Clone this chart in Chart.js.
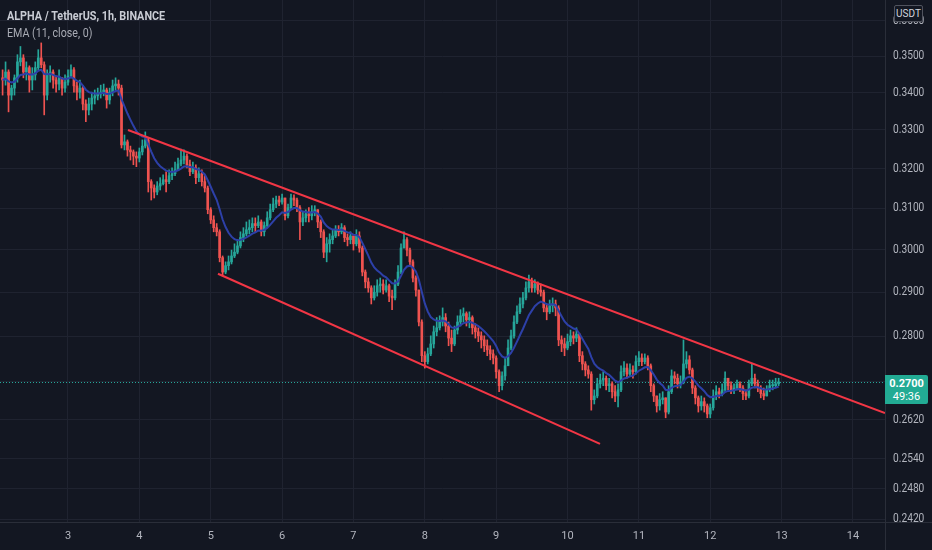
<!DOCTYPE html>
<html>
<head>
<meta charset="utf-8">
<script src="https://cdn.jsdelivr.net/npm/chart.js@4.4.1/dist/chart.umd.min.js"></script>
<style>
  html, body { margin: 0; padding: 0; background: #131722; }
  #wrap { position: relative; width: 932px; height: 550px; overflow: hidden; font-family: Roboto, sans-serif; }
  #chart { position: absolute; left: 0; top: 0; }
  .hdr { position: absolute; left: 7px; white-space: nowrap; transform-origin: 0 0; }
  #title { top: 9px; font-size: 12px; font-weight: 700; color: #c9ccd4; transform: scaleX(0.9); }
  #ema { top: 26px; font-size: 12px; color: #a9acb5; transform: scaleX(0.89); }
  #usdt { position: absolute; left: 894px; top: 5px; width: 27px; height: 15px; border: 1px solid #50535e; border-radius: 2px;
          font-size: 10px; line-height: 15px; text-align: center; color: #d1d4dc; background: #131722; }
  #price { position: absolute; left: 885px; top: 375px; width: 43px; height: 29px; background: #22ab94; border-radius: 0 2px 2px 0;
           color: #fff; font-size: 11px; text-align: center; line-height: 13px; padding-top: 2px; box-sizing: border-box; }
  #price b { display: block; font-weight: 700; }
</style>
</head>
<body>
<div id="wrap">
  <canvas id="chart" width="932" height="550"></canvas>
  <div class="hdr" id="title">ALPHA / TetherUS, 1h, BINANCE</div>
  <div class="hdr" id="ema">EMA (11, close, 0)</div>
  <div id="usdt">USDT</div>
  <div id="price"><b id="priceValue"></b><span id="countdown"></span></div>
</div>
<script>
document.addEventListener("DOMContentLoaded", () => {
  // hourly candles, first one at day 2, 02:00
  const startDay = 2;
  const startHour = 2;
  const firstOpen = 0.3440;

  const closes = [
    0.3434, 0.3456, 0.3393, 0.3412, 0.3440, 0.3484, 0.3495, 0.3456, 0.3468, 0.3434,
    0.3448, 0.3468, 0.3495, 0.3476, 0.3393, 0.3448, 0.3456, 0.3434, 0.3423, 0.3440,
    0.3412, 0.3428, 0.3445, 0.3462, 0.3418, 0.3401, 0.3412, 0.3369, 0.3353, 0.3369,
    0.3385, 0.3391, 0.3396, 0.3401, 0.3407, 0.3380, 0.3401, 0.3418, 0.3423, 0.3412,
    0.3261, 0.3269, 0.3248, 0.3243, 0.3232, 0.3227, 0.3243, 0.3258, 0.3274, 0.3167,
    0.3151, 0.3141, 0.3156, 0.3162, 0.3172, 0.3167, 0.3182, 0.3187, 0.3197, 0.3212,
    0.3222, 0.3232, 0.3210, 0.3192, 0.3202, 0.3177, 0.3187, 0.3167, 0.3151, 0.3097,
    0.3072, 0.3053, 0.3043, 0.2981, 0.2947, 0.2962, 0.2971, 0.2985, 0.2994, 0.3009,
    0.3029, 0.3038, 0.3048, 0.3053, 0.3063, 0.3058, 0.3067, 0.3043, 0.3058, 0.3077,
    0.3097, 0.3111, 0.3121, 0.3116, 0.3126, 0.3082, 0.3102, 0.3126, 0.3121, 0.3102,
    0.3067, 0.3077, 0.3087, 0.3082, 0.3092, 0.3097, 0.3067, 0.3043, 0.2994, 0.3014,
    0.3024, 0.3033, 0.3048, 0.3043, 0.3053, 0.3029, 0.3024, 0.3033, 0.3014, 0.3033,
    0.3004, 0.2947, 0.2924, 0.2910, 0.2887, 0.2900, 0.2915, 0.2919, 0.2905, 0.2915,
    0.2891, 0.2887, 0.2919, 0.2947, 0.3004, 0.3024, 0.2999, 0.2971, 0.2933, 0.2905,
    0.2832, 0.2757, 0.2744, 0.2761, 0.2783, 0.2810, 0.2819, 0.2832, 0.2842, 0.2823,
    0.2796, 0.2783, 0.2814, 0.2832, 0.2846, 0.2851, 0.2837, 0.2842, 0.2819, 0.2810,
    0.2801, 0.2792, 0.2779, 0.2770, 0.2761, 0.2752, 0.2722, 0.2692, 0.2713, 0.2735,
    0.2774, 0.2801, 0.2832, 0.2855, 0.2873, 0.2887, 0.2910, 0.2924, 0.2910, 0.2919,
    0.2905, 0.2900, 0.2864, 0.2855, 0.2869, 0.2873, 0.2864, 0.2792, 0.2783, 0.2774,
    0.2788, 0.2801, 0.2796, 0.2805, 0.2757, 0.2739, 0.2726, 0.2717, 0.2662, 0.2670,
    0.2696, 0.2704, 0.2708, 0.2692, 0.2696, 0.2679, 0.2670, 0.2683, 0.2722, 0.2730,
    0.2717, 0.2726, 0.2722, 0.2744, 0.2752, 0.2744, 0.2752, 0.2735, 0.2692, 0.2670,
    0.2649, 0.2662, 0.2666, 0.2636, 0.2679, 0.2713, 0.2708, 0.2696, 0.2700, 0.2739,
    0.2748, 0.2726, 0.2687, 0.2666, 0.2649, 0.2658, 0.2649, 0.2632, 0.2645, 0.2670,
    0.2679, 0.2675, 0.2683, 0.2708, 0.2692, 0.2683, 0.2687, 0.2696, 0.2687, 0.2675,
    0.2670, 0.2696, 0.2708, 0.2696, 0.2687, 0.2675, 0.2670, 0.2683, 0.2692, 0.2692, 0.2696, 0.2700
  ];
  const highs = [
    0.3462, 0.3484, 0.3462, 0.3420, 0.3448, 0.3504, 0.3527, 0.3504, 0.3484, 0.3473,
    0.3468, 0.3484, 0.3518, 0.3537, 0.3484, 0.3462, 0.3473, 0.3462, 0.3445, 0.3462,
    0.3440, 0.3448, 0.3462, 0.3476, 0.3468, 0.3428, 0.3434, 0.3418, 0.3380, 0.3385,
    0.3401, 0.3407, 0.3412, 0.3420, 0.3423, 0.3412, 0.3412, 0.3434, 0.3440, 0.3434,
    0.3420, 0.3287, 0.3274, 0.3258, 0.3248, 0.3243, 0.3253, 0.3274, 0.3295, 0.3279,
    0.3172, 0.3159, 0.3167, 0.3177, 0.3184, 0.3192, 0.3197, 0.3202, 0.3217, 0.3227,
    0.3250, 0.3248, 0.3238, 0.3222, 0.3217, 0.3210, 0.3202, 0.3197, 0.3182, 0.3156,
    0.3102, 0.3082, 0.3063, 0.3048, 0.2985, 0.2971, 0.2985, 0.2999, 0.3014, 0.3024,
    0.3043, 0.3053, 0.3067, 0.3072, 0.3077, 0.3077, 0.3082, 0.3072, 0.3067, 0.3092,
    0.3111, 0.3126, 0.3131, 0.3131, 0.3136, 0.3126, 0.3111, 0.3136, 0.3134, 0.3126,
    0.3107, 0.3092, 0.3097, 0.3102, 0.3107, 0.3107, 0.3097, 0.3072, 0.3048, 0.3029,
    0.3038, 0.3048, 0.3058, 0.3058, 0.3063, 0.3058, 0.3038, 0.3043, 0.3033, 0.3048,
    0.3043, 0.3009, 0.2952, 0.2933, 0.2915, 0.2915, 0.2929, 0.2933, 0.2929, 0.2929,
    0.2919, 0.2905, 0.2929, 0.2962, 0.3014, 0.3043, 0.3029, 0.3004, 0.2976, 0.2938,
    0.2905, 0.2837, 0.2766, 0.2774, 0.2801, 0.2823, 0.2842, 0.2846, 0.2864, 0.2851,
    0.2832, 0.2814, 0.2823, 0.2846, 0.2860, 0.2864, 0.2855, 0.2855, 0.2846, 0.2828,
    0.2819, 0.2810, 0.2801, 0.2792, 0.2779, 0.2770, 0.2757, 0.2726, 0.2722, 0.2752,
    0.2792, 0.2814, 0.2846, 0.2869, 0.2887, 0.2900, 0.2924, 0.2940, 0.2933, 0.2929,
    0.2924, 0.2919, 0.2905, 0.2873, 0.2882, 0.2887, 0.2882, 0.2869, 0.2801, 0.2796,
    0.2805, 0.2814, 0.2810, 0.2819, 0.2805, 0.2766, 0.2744, 0.2735, 0.2722, 0.2683,
    0.2708, 0.2717, 0.2722, 0.2713, 0.2708, 0.2700, 0.2692, 0.2696, 0.2735, 0.2744,
    0.2739, 0.2739, 0.2735, 0.2757, 0.2766, 0.2761, 0.2761, 0.2757, 0.2739, 0.2696,
    0.2670, 0.2675, 0.2679, 0.2666, 0.2692, 0.2726, 0.2722, 0.2717, 0.2713, 0.2792,
    0.2766, 0.2757, 0.2730, 0.2692, 0.2670, 0.2670, 0.2666, 0.2653, 0.2653, 0.2683,
    0.2692, 0.2687, 0.2696, 0.2722, 0.2708, 0.2700, 0.2696, 0.2704, 0.2700, 0.2692,
    0.2683, 0.2704, 0.2739, 0.2717, 0.2704, 0.2692, 0.2687, 0.2692, 0.2704, 0.2704, 0.2708, 0.2708
  ];
  const lows = [
    0.3393, 0.3420, 0.3348, 0.3380, 0.3393, 0.3428, 0.3473, 0.3440, 0.3434, 0.3401,
    0.3407, 0.3434, 0.3462, 0.3468, 0.3340, 0.3380, 0.3428, 0.3412, 0.3401, 0.3407,
    0.3393, 0.3401, 0.3420, 0.3440, 0.3401, 0.3380, 0.3385, 0.3353, 0.3322, 0.3340,
    0.3353, 0.3369, 0.3380, 0.3385, 0.3391, 0.3358, 0.3369, 0.3391, 0.3407, 0.3393,
    0.3253, 0.3248, 0.3232, 0.3222, 0.3210, 0.3205, 0.3217, 0.3235, 0.3253, 0.3141,
    0.3121, 0.3126, 0.3134, 0.3146, 0.3159, 0.3141, 0.3162, 0.3172, 0.3182, 0.3197,
    0.3207, 0.3212, 0.3202, 0.3182, 0.3187, 0.3162, 0.3167, 0.3156, 0.3141, 0.3087,
    0.3063, 0.3043, 0.3033, 0.2971, 0.2938, 0.2943, 0.2952, 0.2966, 0.2981, 0.2990,
    0.3004, 0.3019, 0.3033, 0.3038, 0.3043, 0.3043, 0.3053, 0.3033, 0.3033, 0.3053,
    0.3072, 0.3092, 0.3102, 0.3107, 0.3111, 0.3072, 0.3077, 0.3097, 0.3107, 0.3092,
    0.3024, 0.3058, 0.3067, 0.3067, 0.3072, 0.3082, 0.3053, 0.3029, 0.2981, 0.2971,
    0.2994, 0.3014, 0.3029, 0.3033, 0.3038, 0.3019, 0.3009, 0.3014, 0.2999, 0.3009,
    0.2994, 0.2938, 0.2910, 0.2900, 0.2873, 0.2882, 0.2891, 0.2900, 0.2896, 0.2900,
    0.2878, 0.2860, 0.2882, 0.2915, 0.2943, 0.3004, 0.2985, 0.2962, 0.2924, 0.2891,
    0.2823, 0.2744, 0.2730, 0.2739, 0.2757, 0.2774, 0.2801, 0.2814, 0.2823, 0.2810,
    0.2779, 0.2766, 0.2779, 0.2805, 0.2823, 0.2832, 0.2823, 0.2819, 0.2805, 0.2796,
    0.2788, 0.2774, 0.2766, 0.2757, 0.2748, 0.2739, 0.2708, 0.2679, 0.2683, 0.2704,
    0.2735, 0.2770, 0.2796, 0.2828, 0.2851, 0.2864, 0.2882, 0.2900, 0.2900, 0.2900,
    0.2896, 0.2891, 0.2855, 0.2837, 0.2851, 0.2855, 0.2846, 0.2779, 0.2766, 0.2757,
    0.2770, 0.2779, 0.2783, 0.2788, 0.2744, 0.2726, 0.2713, 0.2708, 0.2640, 0.2653,
    0.2666, 0.2687, 0.2692, 0.2683, 0.2679, 0.2666, 0.2658, 0.2647, 0.2679, 0.2713,
    0.2708, 0.2713, 0.2708, 0.2717, 0.2735, 0.2735, 0.2739, 0.2726, 0.2679, 0.2658,
    0.2636, 0.2640, 0.2653, 0.2624, 0.2632, 0.2675, 0.2696, 0.2687, 0.2687, 0.2696,
    0.2730, 0.2717, 0.2675, 0.2653, 0.2636, 0.2640, 0.2636, 0.2624, 0.2624, 0.2640,
    0.2662, 0.2666, 0.2670, 0.2679, 0.2683, 0.2675, 0.2675, 0.2683, 0.2679, 0.2662,
    0.2662, 0.2666, 0.2692, 0.2687, 0.2679, 0.2666, 0.2662, 0.2670, 0.2679, 0.2683, 0.2687, 0.2692
  ];

  const dayTicks = [3, 4, 5, 6, 7, 8, 9, 10, 11, 12, 13, 14];
  const priceTicks = [0.242, 0.248, 0.254, 0.262, 0.27, 0.28, 0.29, 0.30, 0.31, 0.32, 0.33, 0.34, 0.35, 0.36];
  const lastPrice = 0.2700;
  const countdown = "49:36";
  const emaLength = 11;

  // hand drawn channel: [day, price]
  const upperLine = [[3.8408, 0.3300], [14.449, 0.2634]];
  const lowerLine = [[5.1020, 0.2943], [10.4552, 0.2570]];

  const upColor = "#26a69a";
  const downColor = "#ef5350";
  const gridColor = "#1f2330";
  const textColor = "#b2b5be";

  document.getElementById("priceValue").textContent = lastPrice.toFixed(4);
  document.getElementById("countdown").textContent = countdown;

  const xs = closes.map((c, i) => startDay + (startHour + i) / 24);
  const opens = closes.map((c, i) => (i === 0 ? firstOpen : closes[i - 1]));
  const colors = closes.map((c, i) => (c >= opens[i] ? upColor : downColor));

  // EMA of the closes
  const k = 2 / (emaLength + 1);
  const ema = [];
  closes.forEach((c, i) => ema.push(i === 0 ? c : c * k + ema[i - 1] * (1 - k)));

  const framePlugin = {
    id: "frame",
    beforeDatasetsDraw(chart) {
      const { ctx, chartArea } = chart;
      const y = chart.scales.y.getPixelForValue(lastPrice);
      ctx.save();
      ctx.strokeStyle = upColor;
      ctx.lineWidth = 1;
      ctx.setLineDash([1, 2]);
      ctx.beginPath();
      ctx.moveTo(chartArea.left, Math.round(y) + 0.5);
      ctx.lineTo(chartArea.right, Math.round(y) + 0.5);
      ctx.stroke();
      ctx.restore();
    },
    afterDraw(chart) {
      const { ctx, chartArea } = chart;
      ctx.save();
      ctx.strokeStyle = "#2a2e39";
      ctx.lineWidth = 1;
      ctx.beginPath();
      ctx.moveTo(Math.round(chartArea.right) + 0.5, 0);
      ctx.lineTo(Math.round(chartArea.right) + 0.5, chart.height);
      ctx.moveTo(0, Math.round(chartArea.bottom) + 0.5);
      ctx.lineTo(chart.width, Math.round(chartArea.bottom) + 0.5);
      ctx.stroke();

      // price labels, slightly condensed like the original
      const yScale = chart.scales.y;
      ctx.fillStyle = textColor;
      ctx.font = "12px Roboto, sans-serif";
      ctx.textAlign = "left";
      ctx.textBaseline = "middle";
      priceTicks.forEach((v) => {
        const py = yScale.getPixelForValue(v);
        ctx.save();
        ctx.translate(chartArea.right + 8, py);
        ctx.scale(0.85, 1);
        ctx.fillText(v.toFixed(4), 0, 0);
        ctx.restore();
      });
      ctx.restore();
    }
  };

  const bgPlugin = {
    id: "bg",
    beforeDraw(chart) {
      const ctx = chart.ctx;
      ctx.save();
      ctx.fillStyle = "#131722";
      ctx.fillRect(0, 0, chart.width, chart.height);
      ctx.restore();
    }
  };

  new Chart(document.getElementById("chart").getContext("2d"), {
    type: "bar",
    data: {
      datasets: [
        {
          type: "line",
          label: "upper",
          data: upperLine.map((p) => ({ x: p[0], y: p[1] })),
          borderColor: "#f23645",
          borderWidth: 2,
          pointRadius: 0,
          order: -1
        },
        {
          type: "line",
          label: "lower",
          data: lowerLine.map((p) => ({ x: p[0], y: p[1] })),
          borderColor: "#f23645",
          borderWidth: 2,
          pointRadius: 0,
          order: -1
        },
        {
          type: "line",
          label: "EMA",
          data: ema.map((v, i) => ({ x: xs[i], y: v })),
          borderColor: "#2d40a8",
          borderWidth: 2,
          pointRadius: 0,
          tension: 0,
          order: 0
        },
        {
          label: "bodies",
          data: closes.map((c, i) => ({ x: xs[i], y: [opens[i], c] })),
          backgroundColor: colors,
          borderWidth: 0,
          barThickness: 2,
          minBarLength: 1,
          grouped: false,
          order: 1
        },
        {
          label: "wicks",
          data: closes.map((c, i) => ({
            x: xs[i],
            y: [Math.min(lows[i], opens[i], c), Math.max(highs[i], opens[i], c)]
          })),
          backgroundColor: colors,
          borderWidth: 0,
          barThickness: 1,
          grouped: false,
          order: 2
        }
      ]
    },
    options: {
      responsive: false,
      animation: false,
      devicePixelRatio: 1,
      layout: { padding: 0 },
      plugins: { legend: { display: false }, tooltip: { enabled: false } },
      scales: {
        x: {
          type: "linear",
          position: "bottom",
          min: 2.0471,
          max: 14.449,
          offset: false,
          afterBuildTicks: (s) => { s.ticks = dayTicks.map((v) => ({ value: v })); },
          afterFit: (s) => { s.height = 28; s.paddingLeft = 0; s.paddingRight = 0; },
          grid: { color: gridColor, drawTicks: false, offset: false },
          border: { display: false },
          ticks: {
            color: textColor,
            font: { family: "Roboto", size: 11 },
            padding: 8,
            maxRotation: 0,
            autoSkip: false,
            callback: (v) => String(v)
          }
        },
        y: {
          type: "logarithmic",
          position: "right",
          min: 0.2415,
          max: 0.3660,
          afterBuildTicks: (s) => { s.ticks = priceTicks.map((v) => ({ value: v })); },
          afterFit: (s) => { s.width = 47; s.paddingTop = 0; s.paddingBottom = 0; },
          grid: { color: gridColor, drawTicks: false, offset: false },
          border: { display: false },
          ticks: { display: false }
        }
      }
    },
    plugins: [bgPlugin, framePlugin]
  });
});
</script>
</body>
</html>
